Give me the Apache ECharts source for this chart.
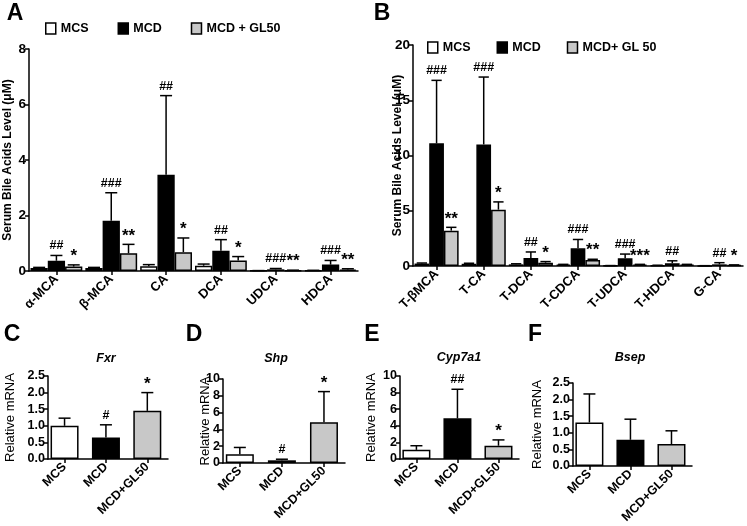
<!DOCTYPE html>
<html><head><meta charset="utf-8">
<script src="https://cdn.jsdelivr.net/npm/echarts@6/dist/echarts.min.js"></script>
<style>html,body{margin:0;padding:0;background:#fff}#c{width:747px;height:526px}</style>
</head><body><div id="c"></div><script>
// ---------- Panel A ----------
const catA = ['α-MCA','β-MCA','CA','DCA','UDCA','HDCA'];
const legendA = ['MCS','MCD','MCD + GL50'];
const mcsA = [0.11,0.11,0.17,0.19,0.01,0.02];
const mcsSdA = [0.02,0.02,0.06,0.06,0.005,0.005];
const mcdA = [0.37,1.81,3.47,0.73,0.06,0.23];
const mcdSdA = [0.19,1.01,2.85,0.40,0.03,0.15];
const glA = [0.16,0.64,0.68,0.38,0.02,0.05];
const glSdA = [0.06,0.32,0.51,0.14,0.01,0.03];
const sigMcdA = ['##','###','##','##','###','###'];
const sigGlA = ['*','**','*','*','**','**'];

// ---------- Panel B ----------
const catB = ['T-βMCA','T-CA','T-DCA','T-CDCA','T-UDCA','T-HDCA','G-CA'];
const legendB = ['MCS','MCD','MCD+ GL 50'];
const mcsB = [0.22,0.2,0.15,0.12,0.03,0.05,0.02];
const mcsSdB = [0.05,0.05,0.05,0.03,0.01,0.02,0.01];
const mcdB = [11.1,11.0,0.72,1.6,0.7,0.25,0.15];
const mcdSdB = [5.7,6.1,0.55,0.8,0.38,0.22,0.15];
const glB = [3.2,5.1,0.3,0.55,0.12,0.12,0.08];
const glSdB = [0.3,0.7,0.1,0.06,0.03,0.03,0.02];
const sigMcdB = ['###','###','##','###','###','##','##'];
const sigGlB = ['**','*','*','**','***','','*'];

// ---------- Panels C-F ----------
const groups = ['MCS','MCD','MCD+GL50'];
const fxr = [1.0,0.65,1.45];   const fxrSd = [0.23,0.38,0.55];  const fxrSig = ['','#','*'];
const shp = [1.05,0.32,4.85];  const shpSd = [0.8,0.13,3.65];   const shpSig = ['','#','*'];
const cyp = [1.1,4.9,1.6];     const cypSd = [0.5,3.5,0.7];     const cypSig = ['','##','*'];
const bsep = [1.31,0.79,0.66]; const bsepSd = [0.86,0.62,0.4];  const bsepSig = ['','',''];

// ---------- styling ----------
const FONT = '"Liberation Sans", Arial, sans-serif';
const fills = ['#ffffff','#000000','#c8c8c8'];
const LS = {color:'#000', width:1.5};

function makeErr(k, n, gapFrac, sigs, fixedW) {
  return function (params, api) {
    const x = api.value(0), m = api.value(1), sd = api.value(2);
    let cx, bw;
    if (fixedW) { bw = fixedW; cx = api.coord([x, 0])[0]; }
    else {
      const band = api.size([1, 0])[0];
      bw = band * (1 - gapFrac) / n;
      cx = api.coord([x, 0])[0] + (k - (n - 1) / 2) * bw;
    }
    const yb = api.coord([x, m])[1], yt = api.coord([x, m + sd])[1];
    const hw = Math.min(6, bw * 0.35);
    const st = {stroke:'#000', lineWidth:1.5};
    const ch = [
      {type:'line', shape:{x1:cx, y1:yb, x2:cx, y2:yt}, style:st},
      {type:'line', shape:{x1:cx - hw, y1:yt, x2:cx + hw, y2:yt}, style:st}
    ];
    const s = sigs && sigs[params.dataIndex];
    if (s) {
      const star = s[0] === '*';
      ch.push({type:'text', x:cx, y:yt - (star ? 0 : 3),
        style:{text:s, font:'bold ' + (star ? 17 : 12.5) + 'px ' + FONT, fill:'#000',
          align:'center', verticalAlign:'bottom', textAlign:'center', textVerticalAlign:'bottom'}});
    }
    return {type:'group', children:ch};
  };
}

function yAx(gi, max, interval, name, gap, nameSize, nameWeight, dec, tickSize) {
  return {type:'value', gridIndex:gi, min:0, max:max, interval:interval,
    axisLine:{show:true, onZero:false, lineStyle:LS},
    axisTick:{show:true, length:4, lineStyle:LS},
    axisLabel:{color:'#000', fontFamily:FONT, fontWeight:'bold', fontSize:tickSize, margin:3,
      formatter: v => dec ? v.toFixed(1) : String(v)},
    splitLine:{show:false},
    name:name, nameLocation:'middle', nameGap:gap, nameRotate:90, nameMoveOverlap:false,
    nameTextStyle:{color:'#000', fontFamily:FONT, fontSize:nameSize, fontWeight:nameWeight}};
}
function xCat(gi, data) {
  return {type:'category', gridIndex:gi, data:data,
    axisLine:{show:true, onZero:false, lineStyle:LS},
    axisTick:{show:true, alignWithLabel:true, length:4, lineStyle:LS},
    axisLabel:{rotate:45, interval:0, color:'#000', fontFamily:FONT, fontWeight:'bold', fontSize:13, margin:6},
    splitLine:{show:false}};
}
function xVal(gi) {
  return {type:'value', gridIndex:gi, min:-0.4, max:2.5,
    axisLine:{show:true, onZero:false, lineStyle:LS},
    axisTick:{show:true, length:4, lineStyle:LS, customValues:[0,1,2]},
    axisLabel:{rotate:45, color:'#000', fontFamily:FONT, fontWeight:'bold', fontSize:12.5, margin:6,
      customValues:[0,1,2], formatter: v => groups[Math.round(v)]},
    splitLine:{show:false}};
}

const grids = [
  {left:29, top:49, width:329, height:222},
  {left:413, top:45, width:330, height:221},
  {left:48, top:376, width:120, height:83},
  {left:223, top:379, width:122, height:84},
  {left:400, top:376, width:119, height:83},
  {left:573, top:383, width:119, height:83}
].map(g => Object.assign({containLabel:false, outerBoundsMode:'none'}, g));

const series = [];
function grouped(gi, names, vals, sds, sigs, gap) {
  vals.forEach((v, k) => {
    series.push({type:'bar', name:names[k], xAxisIndex:gi, yAxisIndex:gi, data:v,
      barGap:'0%', barCategoryGap:(gap * 100) + '%',
      itemStyle:{color:fills[k], borderColor:'#000', borderWidth:1.5}, z:2});
  });
  vals.forEach((v, k) => {
    series.push({type:'custom', xAxisIndex:gi, yAxisIndex:gi, z:3, clip:false,
      data:v.map((m, i) => [i, m, sds[k][i]]),
      renderItem:makeErr(k, vals.length, gap, sigs[k])});
  });
}
grouped(0, legendA, [mcsA, mcdA, glA], [mcsSdA, mcdSdA, glSdA], [null, sigMcdA, sigGlA], 0.055);
grouped(1, legendB, [mcsB, mcdB, glB], [mcsSdB, mcdSdB, glSdB], [null, sigMcdB, sigGlB], 0.064);

function single(gi, name, vals, sds, sigs) {
  series.push({type:'bar', name:name, xAxisIndex:gi, yAxisIndex:gi, barWidth:28,
    data:vals.map((m, i) => ({value:[i, m], itemStyle:{color:fills[i]}})),
    itemStyle:{borderColor:'#000', borderWidth:1.5}, z:2});
  series.push({type:'custom', xAxisIndex:gi, yAxisIndex:gi, z:3, clip:false,
    data:vals.map((m, i) => [i, m, sds[i]]),
    renderItem:makeErr(0, 1, 0, sigs, 28)});
}
single(2, 'Fxr', fxr, fxrSd, fxrSig);
single(3, 'Shp', shp, shpSd, shpSig);
single(4, 'Cyp7a1', cyp, cypSd, cypSig);
single(5, 'Bsep', bsep, bsepSd, bsepSig);

function legendItems(names) {
  return names.map((n, k) => ({name:n, icon:'rect',
    itemStyle:{color:fills[k], borderColor:'#000', borderWidth:1.5}}));
}
const legTS = {color:'#000', fontFamily:FONT, fontWeight:'bold', fontSize:12.5};

function gtext(text, x, y, font) {
  return {type:'text', x:x, y:y, style:{text:text, font:font, fill:'#000',
    align:'center', verticalAlign:'middle', textAlign:'center', textVerticalAlign:'middle'}};
}
const LET = 'bold 23px ' + FONT;
const GEN = 'italic bold 12.5px ' + FONT;

const option = {
  animation:false,
  backgroundColor:'#fff',
  grid:grids,
  xAxis:[xCat(0, catA), xCat(1, catB), xVal(2), xVal(3), xVal(4), xVal(5)],
  yAxis:[
    yAx(0, 8, 2, 'Serum Bile Acids Level (μM)', 15, 12, 'bold', false, 13.5),
    yAx(1, 20, 5, 'Serum Bile Acids Level (μM)', 9, 12, 'bold', false, 13.5),
    yAx(2, 2.5, 0.5, 'Relative mRNA', 31.5, 13, 'normal', true, 12.5),
    yAx(3, 10, 2, 'Relative mRNA', 11, 13, 'normal', false, 12.5),
    yAx(4, 10, 2, 'Relative mRNA', 22.5, 13, 'normal', false, 12.5),
    yAx(5, 2.5, 0.5, 'Relative mRNA', 29, 13, 'normal', true, 12.5)
  ],
  legend:[
    {left:40, top:17, itemWidth:10, itemHeight:11, itemGap:29, selectedMode:false,
      data:legendItems(legendA), textStyle:legTS},
    {left:422, top:36, itemWidth:10, itemHeight:11, itemGap:26, selectedMode:false,
      data:legendItems(legendB), textStyle:legTS}
  ],
  graphic:[
    gtext('A', 15, 14, LET), gtext('B', 382, 14, LET),
    gtext('C', 12, 335, LET), gtext('D', 194, 335, LET),
    gtext('E', 372, 335, LET), gtext('F', 535, 335, LET),
    gtext('Fxr', 106, 359, GEN), gtext('Shp', 276, 359, GEN),
    gtext('Cyp7a1', 459, 358, GEN), gtext('Bsep', 630, 358, GEN)
  ],
  series:series
};
echarts.init(document.getElementById('c')).setOption(option);
</script></body></html>
